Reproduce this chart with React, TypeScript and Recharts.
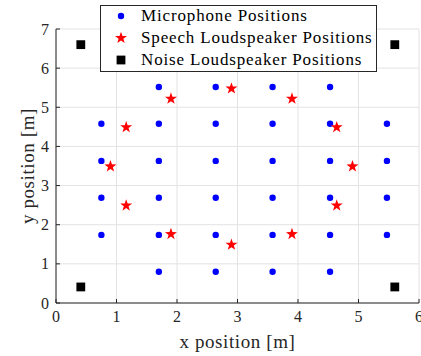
import { ScatterChart, Scatter, XAxis, YAxis, CartesianGrid, Legend } from 'recharts'

// ── Data ─────────────────────────────────────────────────────────────────────

const X_TICKS = [0, 1, 2, 3, 4, 5, 6]
const Y_TICKS = [0, 1, 2, 3, 4, 5, 6, 7]

const MICS = [
  { x: 1.70, y: 5.52 }, { x: 2.64, y: 5.52 }, { x: 3.58, y: 5.52 }, { x: 4.53, y: 5.52 },
  { x: 0.75, y: 4.58 }, { x: 1.70, y: 4.58 }, { x: 2.64, y: 4.58 }, { x: 3.58, y: 4.58 }, { x: 4.53, y: 4.58 }, { x: 5.47, y: 4.58 },
  { x: 0.75, y: 3.63 }, { x: 1.70, y: 3.63 }, { x: 2.64, y: 3.63 }, { x: 3.58, y: 3.63 }, { x: 4.53, y: 3.63 }, { x: 5.47, y: 3.63 },
  { x: 0.75, y: 2.69 }, { x: 1.70, y: 2.69 }, { x: 2.64, y: 2.69 }, { x: 3.58, y: 2.69 }, { x: 4.53, y: 2.69 }, { x: 5.47, y: 2.69 },
  { x: 0.75, y: 1.74 }, { x: 1.70, y: 1.74 }, { x: 2.64, y: 1.74 }, { x: 3.58, y: 1.74 }, { x: 4.53, y: 1.74 }, { x: 5.47, y: 1.74 },
  { x: 1.70, y: 0.80 }, { x: 2.64, y: 0.80 }, { x: 3.58, y: 0.80 }, { x: 4.53, y: 0.80 },
]

const SPEECH = [
  { x: 1.90, y: 5.22 }, { x: 2.90, y: 5.48 }, { x: 3.90, y: 5.22 },
  { x: 1.16, y: 4.49 }, { x: 4.64, y: 4.49 },
  { x: 0.90, y: 3.49 }, { x: 4.90, y: 3.49 },
  { x: 1.16, y: 2.49 }, { x: 4.64, y: 2.49 },
  { x: 1.90, y: 1.76 }, { x: 2.90, y: 1.49 }, { x: 3.90, y: 1.76 },
]

const NOISE = [
  { x: 0.41, y: 6.60 }, { x: 5.60, y: 6.60 },
  { x: 0.41, y: 0.41 }, { x: 5.60, y: 0.41 },
]

const LABELS = ['Microphone Positions', 'Speech Loudspeaker Positions', 'Noise Loudspeaker Positions']
const X_LABEL = 'x position [m]'
const Y_LABEL = 'y position [m]'

// ── Styling ──────────────────────────────────────────────────────────────────

const AXIS = '#262626'
const GRID = '#e3e3e3'
const FONT = '"Liberation Serif", "Times New Roman", serif'
const TICK_LEN = 4

// ── Marker shapes ────────────────────────────────────────────────────────────

const Dot = ({ cx, cy }: any) => <circle cx={cx} cy={cy} r={3.2} fill="#0000ff" />

function starPoints(cx: number, cy: number, ro: number, ri: number) {
  const pts: string[] = []
  for (let i = 0; i < 10; i++) {
    const r = i % 2 === 0 ? ro : ri
    const a = -Math.PI / 2 + (i * Math.PI) / 5
    pts.push(`${cx + r * Math.cos(a)},${cy + r * Math.sin(a)}`)
  }
  return pts.join(' ')
}
const Star = ({ cx, cy }: any) => <polygon points={starPoints(cx, cy, 6.3, 2.5)} fill="#ff0000" />

const Square = ({ cx, cy }: any) => <rect x={cx - 4.4} y={cy - 4.4} width={8.8} height={8.8} fill="#000" />

const MARKERS = [Dot, Star, Square]

// ── Ticks (inward, MATLAB style) ─────────────────────────────────────────────

const BottomTick = ({ x, y, payload }: any) => (
  <g>
    <line x1={x} y1={y} x2={x} y2={y - TICK_LEN} stroke={AXIS} />
    <text x={x} y={y + 19} textAnchor="middle" fontFamily={FONT} fontSize={16} fill={AXIS}>{payload.value}</text>
  </g>
)
const LeftTick = ({ x, y, payload }: any) => (
  <g>
    <line x1={x} y1={y} x2={x + TICK_LEN} y2={y} stroke={AXIS} />
    <text x={x - 7} y={y + 5.5} textAnchor="end" fontFamily={FONT} fontSize={16} fill={AXIS}>{payload.value}</text>
  </g>
)
const TopTick = ({ x, y }: any) => <line x1={x} y1={y} x2={x} y2={y + TICK_LEN} stroke={AXIS} />
const RightTick = ({ x, y }: any) => <line x1={x} y1={y} x2={x - TICK_LEN} y2={y} stroke={AXIS} />

// ── Axis titles ──────────────────────────────────────────────────────────────

const XTitle = ({ viewBox }: any) => (
  <text x={viewBox.x + viewBox.width / 2} y={viewBox.y + 45} textAnchor="middle"
    fontFamily={FONT} fontSize={19} fill={AXIS} style={{ letterSpacing: 0.6 }}>{X_LABEL}</text>
)
const YTitle = ({ viewBox }: any) => {
  const cx = viewBox.x + 18
  const cy = viewBox.y + viewBox.height / 2
  return (
    <text x={cx} y={cy} textAnchor="middle" transform={`rotate(-90 ${cx} ${cy})`}
      fontFamily={FONT} fontSize={19} fill={AXIS} style={{ letterSpacing: 0.6 }}>{Y_LABEL}</text>
  )
}

// ── Legend ───────────────────────────────────────────────────────────────────

function LegendBox() {
  return (
    <div style={{
      boxSizing: 'border-box', width: 277, height: 67, border: `1px solid ${AXIS}`,
      background: '#fff', position: 'relative', fontFamily: FONT, fontSize: 17, color: '#000',
    }}>
      {LABELS.map((label, i) => {
        const M = MARKERS[i]
        return (
          <div key={label} style={{ position: 'absolute', left: 0, top: -1 + 22 * i, height: 22, display: 'flex', alignItems: 'center', whiteSpace: 'nowrap' }}>
            <svg width={40} height={22} style={{ display: 'block' }}>
              <M cx={20} cy={11} />
            </svg>
            <span style={{ letterSpacing: 0.85, lineHeight: '22px' }}>{label}</span>
          </div>
        )
      })}
    </div>
  )
}

export default function App() {
  return (
    <div style={{ position: 'absolute', left: 0, top: 0, background: '#fff' }}>
      <ScatterChart width={421} height={356} margin={{ top: 29, right: 2, bottom: 5, left: 16 }}>
        <CartesianGrid stroke={GRID} />
        <XAxis type="number" dataKey="x" domain={[0, 6]} ticks={X_TICKS} interval={0}
          height={48} stroke={AXIS} tickSize={0} tickMargin={0} tick={<BottomTick />}
          label={<XTitle />} />
        <XAxis xAxisId="top" orientation="top" type="number" dataKey="x" domain={[0, 6]} ticks={X_TICKS} interval={0}
          height={0} stroke={AXIS} tickSize={0} tickMargin={0} tick={<TopTick />} />
        <YAxis type="number" dataKey="y" domain={[0, 7]} ticks={Y_TICKS} interval={0}
          width={40} stroke={AXIS} tickSize={0} tickMargin={0} tick={<LeftTick />}
          label={<YTitle />} />
        <YAxis yAxisId="right" orientation="right" type="number" dataKey="y" domain={[0, 7]} ticks={Y_TICKS} interval={0}
          width={0} stroke={AXIS} tickSize={0} tickMargin={0} tick={<RightTick />} />
        <Legend layout="vertical" align="center" verticalAlign="middle"
          wrapperStyle={{ left: 100, top: 5, width: 277, height: 67 }} content={() => <LegendBox />} />
        <Scatter name={LABELS[0]} data={MICS} shape={<Dot />} isAnimationActive={false} />
        <Scatter name={LABELS[1]} data={SPEECH} shape={<Star />} isAnimationActive={false} />
        <Scatter name={LABELS[2]} data={NOISE} shape={<Square />} isAnimationActive={false} />
      </ScatterChart>
    </div>
  )
}
